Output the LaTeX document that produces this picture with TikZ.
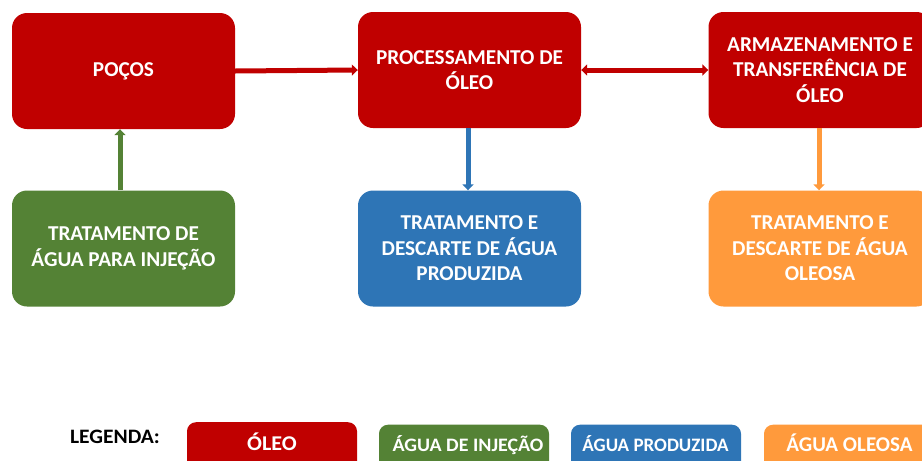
\documentclass[tikz,border=0pt]{standalone}
\usepackage{fontspec}
\usepackage{graphicx}
\setmainfont{Carlito}
\usetikzlibrary{arrows.meta}
\definecolor{cred}{HTML}{C00000}
\definecolor{cgreen}{HTML}{548235}
\definecolor{cblue}{HTML}{2E75B6}
\definecolor{corange}{HTML}{FF9A3C}
\tikzset{
  box/.style={fill=#1, draw=none, rounded corners=15pt, minimum width=223pt, minimum height=116pt,
    inner sep=0pt, align=center, text=white, font=\fontsize{21.2}{25.5}\selectfont\bfseries},
  legbox/.style={fill=#1, draw=none, rounded corners=9pt, minimum width=170pt, minimum height=54pt,
    inner sep=0pt, anchor=north},
  legtext/.style={text=white, inner sep=0pt, anchor=base, font=\fontsize{#1}{22}\selectfont\bfseries},
  conn/.style={draw=#1, line width=5pt, -{Triangle[width=11pt,length=6pt]}},
  dconn/.style={draw=#1, line width=5pt, {Triangle[width=11pt,length=6pt]}-{Triangle[width=11pt,length=6pt]}}
}
\begin{document}
\begin{tikzpicture}[x=1pt,y=-1pt]
\useasboundingbox (0,0) rectangle (922,461);
\clip (0,0) rectangle (922,461);
\node[box=cred] (pocos) at (123.5,71) {POÇOS};
\node[box=cred] (proc) at (469.5,70) {PROCESSAMENTO DE\\ÓLEO};
\node[box=cred] (arm) at (820,70) {ARMAZENAMENTO E\\TRANSFERÊNCIA DE\\ÓLEO};
\node[box=cgreen] (trat) at (123.5,248.5) {TRATAMENTO DE\\ÁGUA PARA INJEÇÃO};
\node[box=cblue] (prod) at (469.5,248.5) {TRATAMENTO E\\DESCARTE DE ÁGUA\\PRODUZIDA};
\node[box=corange] (oleosa) at (820,248.5) {TRATAMENTO E\\DESCARTE DE ÁGUA\\OLEOSA};
\draw[conn=cred] (pocos.east) -- (proc.west);
\draw[dconn=cred] (proc.east) -- (arm.west);
\draw[conn=cgreen] (trat.north -| 120,0) -- (pocos.south -| 120,0);
\draw[conn=cblue] (proc.south -| 468,0) -- (prod.north -| 468,0);
\draw[conn=corange] (arm.south -| 819,0) -- (oleosa.north -| 819,0);
\node[font=\fontsize{20.5}{22}\selectfont\bfseries, inner sep=0pt] (leg) at (115,437) {\scalebox{1.05}[1]{LEGENDA:}};
\node[legbox, fill=cred] (l1) at (272,422) {};
\node[legbox, fill=cgreen] (l2) at (464,424.5) {};
\node[legbox, fill=cblue] (l3) at (656,424.5) {};
\node[legbox, fill=corange] (l4) at (849,424.5) {};
\node[legtext=21] (t1) at (272,450) {\scalebox{1.05}[1]{ÓLEO}};
\node[legtext=19] (t2) at (468,451) {\scalebox{1.05}[1]{ÁGUA DE INJEÇÃO}};
\node[legtext=19] (t3) at (655.5,451) {ÁGUA PRODUZIDA};
\node[legtext=21] (t4) at (849.5,451) {ÁGUA OLEOSA};
\end{tikzpicture}
\end{document}
